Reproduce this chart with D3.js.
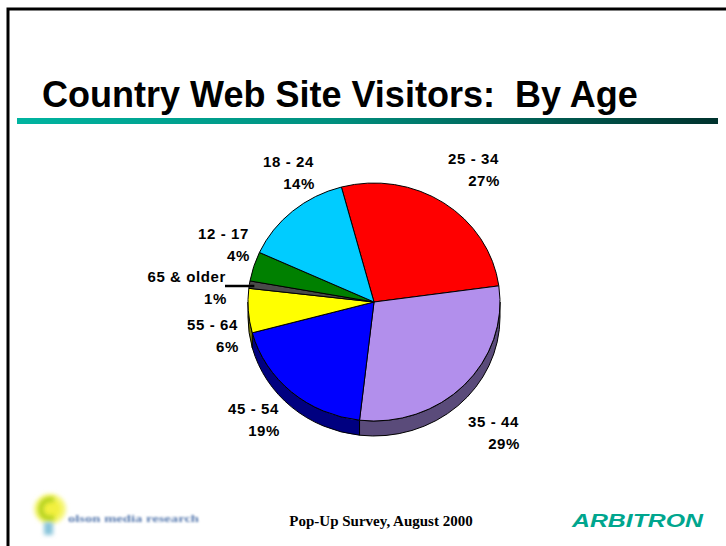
<!DOCTYPE html>
<html>
<head>
<meta charset="utf-8">
<script src="https://cdn.jsdelivr.net/npm/d3@7/dist/d3.min.js"></script>
<style>
  html, body { margin: 0; padding: 0; background: #fff; overflow: hidden; }
  svg { display: block; }
</style>
</head>
<body>
<svg id="chart" width="726" height="546"></svg>
<script>
// Survey data: share of visitors by age group (clockwise from the top)
const ageGroups = ["25 - 34", "35 - 44", "45 - 54", "55 - 64", "65 & older", "12 - 17", "18 - 24"];
const shares    = [27, 29, 19, 6, 1, 4, 14];

// Slice colours (top face and darker side wall)
const topColors  = ["#ff0000", "#b28fec", "#0000ff", "#ffff00", "#4a4a4a", "#008000", "#00ccff"];
const sideColors = ["#800000", "#5a4b7a", "#000080", "#808000", "#262626", "#004000", "#006680"];

const titleText  = "Country Web Site Visitors:  By Age";
const footerText = "Pop-Up Survey, August 2000";

// Label anchors: right edge and first-line baseline for each group
const labelLayout = {
  "25 - 34":    [499, 164],
  "35 - 44":    [519, 427],
  "45 - 54":    [279, 414],
  "55 - 64":    [238, 330],
  "65 & older": [226, 282],
  "12 - 17":    [249, 239],
  "18 - 24":    [314, 167]
};

const svg = d3.select("#chart");
const W = 726, H = 546;

// ---- slide frame ----
svg.append("rect").attr("width", W).attr("height", H).attr("fill", "#fff");
svg.append("path")
  .attr("d", `M8,${H} L8,9 L${W},9`)
  .attr("fill", "none").attr("stroke", "#000").attr("stroke-width", 3);

// ---- title ----
const title = svg.append("text")
  .attr("x", 42).attr("y", 107)
  .attr("font-family", "Liberation Sans, Arial, sans-serif")
  .attr("font-weight", "bold")
  .attr("font-size", 36)
  .style("white-space", "pre")
  .attr("fill", "#000")
  .text(titleText);
// fit title to its span
const tw = title.node().getComputedTextLength();
title.attr("font-size", 36 * 596 / tw);

// gradient rule under the title
const defs = svg.append("defs");
const grad = defs.append("linearGradient").attr("id", "rule")
  .attr("x1", "0%").attr("x2", "100%").attr("y1", "0%").attr("y2", "0%");
grad.append("stop").attr("offset", "0%").attr("stop-color", "#00b4a0");
grad.append("stop").attr("offset", "45%").attr("stop-color", "#00907f");
grad.append("stop").attr("offset", "100%").attr("stop-color", "#00322d");
svg.append("rect")
  .attr("x", 17).attr("y", 118).attr("width", 701).attr("height", 6)
  .attr("fill", "url(#rule)");

// ---- 3D pie ----
const cx = 374, cy = 302, rx = 126, ry = 119, depth = 15;

const pie = d3.pie().sort(null).value(d => d)
  .startAngle(-15 * Math.PI / 180)
  .endAngle(345 * Math.PI / 180);
const arcs = pie(shares);

const color = d3.scaleOrdinal().domain(ageGroups).range(topColors);
const sideColor = d3.scaleOrdinal().domain(ageGroups).range(sideColors);

const px = a => cx + rx * Math.sin(a);
const py = a => cy - ry * Math.cos(a);

function topPath(a0, a1) {
  const large = (a1 - a0) > Math.PI ? 1 : 0;
  return `M${cx},${cy} L${px(a0)},${py(a0)} A${rx},${ry} 0 ${large} 1 ${px(a1)},${py(a1)} Z`;
}
function sidePath(a0, a1) {
  const large = (a1 - a0) > Math.PI ? 1 : 0;
  return `M${px(a0)},${py(a0)} A${rx},${ry} 0 ${large} 1 ${px(a1)},${py(a1)} ` +
         `L${px(a1)},${py(a1) + depth} A${rx},${ry} 0 ${large} 0 ${px(a0)},${py(a0) + depth} Z`;
}

const pieG = svg.append("g");

// side walls: only the front half (angles between 90° and 270°) is visible
const front0 = Math.PI / 2, front1 = 3 * Math.PI / 2;
arcs.forEach((d, i) => {
  const b0 = Math.max(d.startAngle, front0);
  const b1 = Math.min(d.endAngle, front1);
  if (b1 > b0) {
    pieG.append("path")
      .attr("d", sidePath(b0, b1))
      .attr("fill", sideColor(ageGroups[i]))
      .attr("stroke", "#000").attr("stroke-width", 1)
      .attr("stroke-linejoin", "round");
  }
});

// top faces
pieG.selectAll("path.top")
  .data(arcs)
  .join("path")
  .attr("class", "top")
  .attr("d", d => topPath(d.startAngle, d.endAngle))
  .attr("fill", (d, i) => color(ageGroups[i]))
  .attr("stroke", "#000").attr("stroke-width", 1)
  .attr("stroke-linejoin", "round");

// ---- labels ----
const labelFont = "Liberation Sans, Arial, sans-serif";
const labels = svg.append("g")
  .attr("font-family", labelFont)
  .attr("font-weight", "bold")
  .attr("font-size", 15)
  .attr("letter-spacing", 0.6)
  .attr("fill", "#000")
  .attr("text-anchor", "end");

ageGroups.forEach((g, i) => {
  const [lx, ly] = labelLayout[g];
  labels.append("text").attr("x", lx).attr("y", ly).text(g);
  labels.append("text").attr("x", lx + 1).attr("y", ly + 22).text(shares[i] + "%");
});

// leader line for the thin "65 & older" slice
const oldIdx = ageGroups.indexOf("65 & older");
const oldMid = (arcs[oldIdx].startAngle + arcs[oldIdx].endAngle) / 2;
svg.append("line")
  .attr("x1", 225).attr("y1", 286)
  .attr("x2", px(oldMid) + 5).attr("y2", 286)
  .attr("stroke", "#000").attr("stroke-width", 2.5);

// ---- footer ----
svg.append("text")
  .attr("x", 381).attr("y", 526)
  .attr("text-anchor", "middle")
  .attr("font-family", "Liberation Serif, Times New Roman, serif")
  .attr("font-weight", "bold")
  .attr("font-size", 15)
  .attr("fill", "#000")
  .text(footerText);

// ARBITRON wordmark
svg.append("text")
  .attr("x", 572).attr("y", 527)
  .attr("font-family", "Liberation Sans, Arial, sans-serif")
  .attr("font-weight", "bold")
  .attr("font-style", "italic")
  .attr("font-size", 19)
  .attr("textLength", 131)
  .attr("lengthAdjust", "spacingAndGlyphs")
  .attr("fill", "#00a68e")
  .text("ARBITRON");

// olson media research logo (soft)
const soft = defs.append("filter").attr("id", "soft").attr("x", "-50%").attr("y", "-50%")
  .attr("width", "200%").attr("height", "200%");
soft.append("feGaussianBlur").attr("stdDeviation", 2);
const softText = defs.append("filter").attr("id", "softText")
  .attr("x", "-10%").attr("y", "-50%").attr("width", "120%").attr("height", "200%");
softText.append("feGaussianBlur").attr("stdDeviation", 0.9);

const logo = svg.append("g");
logo.append("ellipse").attr("cx", 50).attr("cy", 509).attr("rx", 16).attr("ry", 15)
  .attr("fill", "#f6f67a").attr("filter", "url(#soft)");
logo.append("ellipse").attr("cx", 51).attr("cy", 509).attr("rx", 10).attr("ry", 10)
  .attr("fill", "#f2f040").attr("filter", "url(#soft)");
logo.append("path")
  .attr("d", "M54,500 C45,498 40,504 41,511 C42,517 48,520 54,517")
  .attr("fill", "none").attr("stroke", "#b4d21c").attr("stroke-width", 5)
  .attr("filter", "url(#soft)");
logo.append("rect").attr("x", 44).attr("y", 522).attr("width", 9).attr("height", 13)
  .attr("fill", "#88c4da").attr("filter", "url(#soft)");
logo.append("text")
  .attr("x", 68).attr("y", 522)
  .attr("font-family", "Liberation Serif, Times New Roman, serif")
  .attr("font-size", 10)
  .attr("font-weight", "bold")
  .attr("textLength", 131)
  .attr("lengthAdjust", "spacingAndGlyphs")
  .attr("fill", "#5a7cb0")
  .attr("filter", "url(#softText)")
  .text("olson media research");
</script>
</body>
</html>
